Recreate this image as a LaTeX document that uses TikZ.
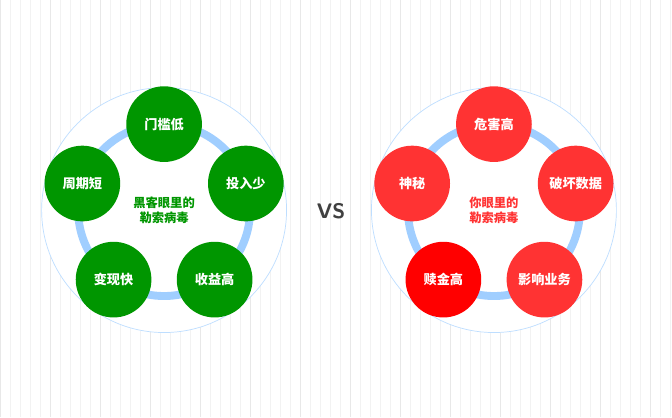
\documentclass[tikz,border=0pt]{standalone}
\usepackage{fontspec}
\newfontfamily\cjk{Noto Sans CJK SC}
\usepackage{tikz}
\usetikzlibrary{positioning}
\definecolor{LeafGreen}{RGB}{0, 150, 0}
\definecolor{AlertRed}{RGB}{255, 51, 51}
\definecolor{PureRed}{RGB}{255, 0, 0}
\definecolor{RingBlue}{RGB}{160, 206, 255}
\definecolor{EdgeBlue}{RGB}{190, 222, 255}
\tikzset{
  bubble/.style={circle, minimum size=76*0.567pt, inner sep=0pt, text=white, font=\cjk\bfseries\fontsize{7.5}{8}\selectfont},
  hub/.style={circle, draw=EdgeBlue, fill=white, minimum size=246*0.567pt, inner sep=0pt, align=center, font=\cjk\bfseries\fontsize{7}{8.5}\selectfont}
}
\begin{document}
\begin{tikzpicture}[x=0.02cm, y=-0.02cm]
    % Fondo cuadriculado
    \fill[white] (0,0) rectangle (672,417);
    \draw[gray!10, very thin] (0,0) grid[step=10] (672,417);
    \draw[gray!18, very thin] (0,0) grid[step=50] (672,417);

    % Círculo izquierdo
    \node[hub, text=LeafGreen] (hacker) at (164,210) {黑客眼里的\\勒索病毒};
    \draw[RingBlue, line width=4.5pt] (hacker.center) circle (86);
    \foreach \lab/\ang [count=\i] in {门槛低/-90, 投入少/-18, 收益高/54, 变现快/126, 周期短/198}
        \node[bubble, fill=LeafGreen] (h\i) at ([shift={(\ang:86)}]hacker.center) {\lab};

    % VS
    \node[font=\sffamily\bfseries\large, text=black!75] (vs) at (331,211) {VS};

    % Círculo derecho
    \node[hub, text=AlertRed] (victim) at (494,210) {你眼里的\\勒索病毒};
    \draw[RingBlue, line width=4.5pt] (victim.center) circle (86);
    \foreach \lab/\ang/\col [count=\i] in {危害高/-90/AlertRed, 破坏数据/-18/AlertRed, 影响业务/54/AlertRed, 赎金高/126/PureRed, 神秘/198/AlertRed}
        \node[bubble, fill=\col] (v\i) at ([shift={(\ang:86)}]victim.center) {\lab};
\end{tikzpicture}
\end{document}
